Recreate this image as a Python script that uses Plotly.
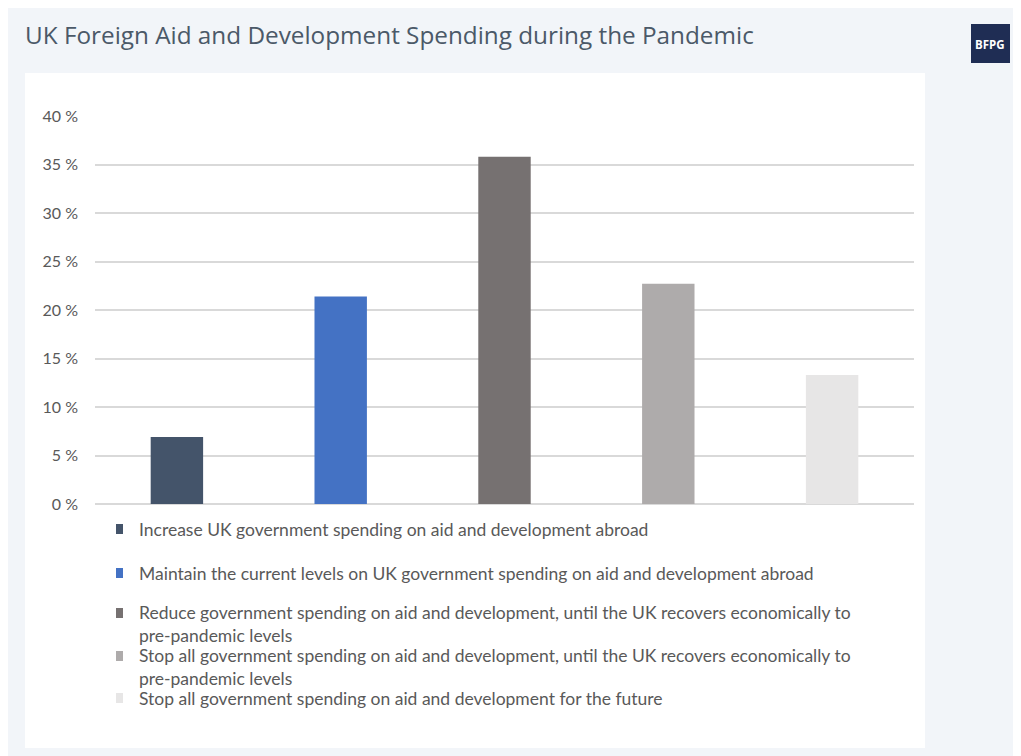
import plotly.graph_objects as go

# ---- data ----
categories = [
    "Increase UK government spending on aid and development abroad",
    "Maintain the current levels on UK government spending on aid and development abroad",
    "Reduce government spending on aid and development, until the UK recovers economically to<br>pre-pandemic levels",
    "Stop all government spending on aid and development, until the UK recovers economically to<br>pre-pandemic levels",
    "Stop all government spending on aid and development for the future",
]
values = [6.9, 21.4, 35.8, 22.7, 13.3]
colors = ["#44546a", "#4472c4", "#767171", "#aeabab", "#e7e6e6"]
y_ticks = [0, 5, 10, 15, 20, 25, 30, 35, 40]
y_tick_labels = [f"{v} %" for v in y_ticks]

OFF = 8  # browser body margin
W, H = 1021 - OFF, 756 - OFF
L, R, T, B = 95 - OFF, 914 - OFF, 116 - OFF, 504 - OFF  # plot area in figure pixels


def px(x):
    return (x - OFF - L) / (R - L)


def py(y):
    return (B - (y - OFF)) / (B - T)


fig = go.Figure()
fig.add_trace(go.Bar(
    x=list(range(len(values))),
    y=values,
    marker=dict(color=colors, line=dict(width=0)),
    width=0.32,
    showlegend=False,
    hovertext=[c.replace("<br>", " ") for c in categories],
))

shapes = [
    # white card
    dict(type="rect", xref="paper", yref="paper", x0=px(25), x1=px(925), y0=py(748), y1=py(73),
         fillcolor="#ffffff", line=dict(width=0), layer="below"),
    # BFPG badge
    dict(type="rect", xref="paper", yref="paper", x0=px(971), x1=px(1010), y0=py(63), y1=py(24),
         fillcolor="#1f2d54", line=dict(width=0), layer="above"),
]

annotations = [
    dict(text="<b>BFPG</b>", xref="paper", yref="paper", x=px(990.5), y=py(44),
         xanchor="center", yanchor="middle", showarrow=False,
         font=dict(family="Open Sans", size=11.5, color="#ffffff")),
]

# custom legend rows (first-line centre y in px, number of lines)
legend_rows = [(529, 1), (573, 1), (613, 2), (656, 2), (698, 1)]
line_h = 22
for (yc, n), name, col in zip(legend_rows, categories, colors):
    shapes.append(dict(type="rect", xref="paper", yref="paper",
                       x0=px(116), x1=px(123), y0=py(yc + 5), y1=py(yc - 5),
                       fillcolor=col, line=dict(width=0)))
    ymid = yc + (n - 1) * line_h / 2
    annotations.append(dict(text=name, xref="paper", yref="paper", x=px(137), y=py(ymid),
                            xanchor="left", yanchor="middle", align="left", showarrow=False,
                            font=dict(family="Lato", size=17.5, color="#595959")))

fig.update_layout(
    width=W, height=H,
    margin=dict(l=L, r=W - R, t=T, b=H - B),
    paper_bgcolor="#f2f5f9",
    plot_bgcolor="rgba(0,0,0,0)",
    title=dict(text="UK Foreign Aid and Development Spending during the Pandemic",
               x=(25 - OFF) / W, xanchor="left", xref="container",
               y=1 - (35 - OFF) / H, yanchor="middle", yref="container",
               font=dict(family="Open Sans", size=24.3, color="#4b5968")),
    xaxis=dict(range=[-0.5, len(values) - 0.5], showticklabels=False, showgrid=False,
               zeroline=False, showline=False, ticks=""),
    yaxis=dict(range=[0, 40], tickmode="array", tickvals=y_ticks, ticktext=y_tick_labels,
               showgrid=True, gridcolor="#d9d9d9", gridwidth=1.5, zeroline=True,
               zerolinecolor="#d9d9d9", zerolinewidth=1.5, showline=False, ticks="",
               ticklabelstandoff=16,
               tickfont=dict(family="Lato", size=16, color="#595959")),
    shapes=shapes,
    annotations=annotations,
)

fig.write_html("out.html")
